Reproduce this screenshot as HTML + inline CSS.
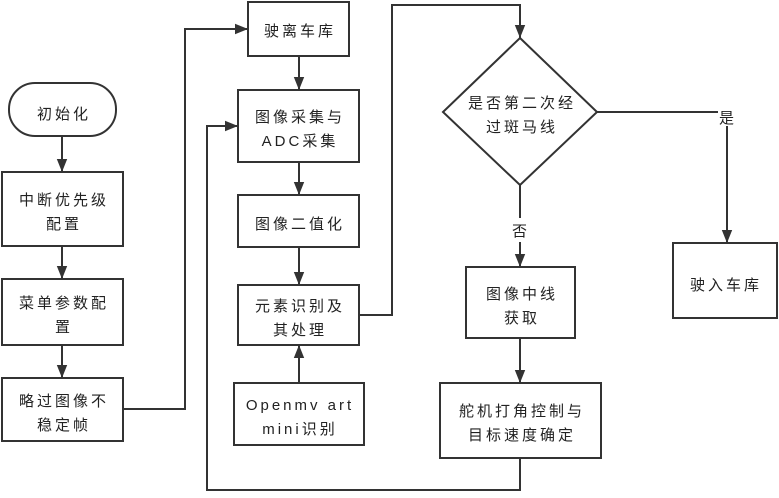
<!DOCTYPE html>
<html><head><meta charset="utf-8"><style>
html,body{margin:0;padding:0;background:#fff}
svg text{font-family:"Liberation Sans","Noto Sans CJK SC",sans-serif;font-size:15px;fill:#222;text-anchor:middle;letter-spacing:3px}
</style></head><body>
<svg width="779" height="493" viewBox="0 0 779 493" xmlns="http://www.w3.org/2000/svg">
<defs><marker id="a" viewBox="0 0 10 10" refX="10" refY="5" markerWidth="7" markerHeight="7" orient="auto" markerUnits="userSpaceOnUse"><path d="M0,0L10,5L0,10z" fill="#333"/></marker>
<marker id="b" viewBox="0 0 10 10" refX="10" refY="5" markerWidth="13" markerHeight="13" orient="auto" markerUnits="userSpaceOnUse"><path d="M0,1L10,5L0,9z" fill="#333"/></marker></defs>
<g fill="none" stroke="#333" stroke-width="2">
<rect x="9" y="83" width="107" height="53" rx="26"/>
<rect x="2" y="172" width="121" height="74"/>
<rect x="2" y="279" width="121" height="66"/>
<rect x="2" y="378" width="121" height="63"/>
<rect x="248" y="2" width="101" height="54"/>
<rect x="238" y="90" width="121" height="72"/>
<rect x="238" y="195" width="121" height="52"/>
<rect x="238" y="285" width="121" height="60"/>
<rect x="234" y="383" width="130" height="62"/>
<polygon points="520,38 597,112 520,185 443,112"/>
<rect x="466" y="267" width="109" height="71"/>
<rect x="440" y="383" width="161" height="75"/>
<rect x="673" y="243" width="104" height="75"/>
<g marker-end="url(#b)">
<line x1="62" y1="136" x2="62" y2="172"/>
<line x1="62" y1="246" x2="62" y2="279"/>
<line x1="62" y1="345" x2="62" y2="378"/>
<polyline points="123,409 185,409 185,29 248,29"/>
<line x1="299" y1="56" x2="299" y2="90"/>
<line x1="299" y1="162" x2="299" y2="195"/>
<line x1="299" y1="247" x2="299" y2="285"/>
<line x1="299" y1="383" x2="299" y2="345"/>
<polyline points="359,315 392,315 392,5 520,5 520,38"/>
<polyline points="520,458 520,490 207,490 207,126 238,126"/>
<line x1="520" y1="242" x2="520" y2="267"/>
<line x1="520" y1="338" x2="520" y2="383"/>
<line x1="727" y1="126" x2="727" y2="243"/>
</g>
<line x1="520" y1="185" x2="520" y2="218"/>
<line x1="597" y1="112" x2="718" y2="112"/>
</g>
<text x="64" y="119">初始化</text>
<text x="64" y="205">中断优先级</text><text x="64" y="229">配置</text>
<text x="64" y="308">菜单参数配</text><text x="64" y="332">置</text>
<text x="64" y="406">略过图像不</text><text x="64" y="430">稳定帧</text>
<text x="300" y="36">驶离车库</text>
<text x="300" y="122">图像采集与</text><text x="300" y="146">ADC采集</text>
<text x="300" y="229">图像二值化</text>
<text x="300" y="311">元素识别及</text><text x="300" y="335">其处理</text>
<text x="300" y="410">Openmv art</text><text x="300" y="434">mini识别</text>
<text x="522" y="108">是否第二次经</text><text x="522" y="132">过斑马线</text>
<text x="521" y="236">否</text>
<text x="728" y="123">是</text>
<text x="522" y="299">图像中线</text><text x="522" y="323">获取</text>
<text x="522" y="416">舵机打角控制与</text><text x="522" y="440">目标速度确定</text>
<text x="726" y="290">驶入车库</text>
</svg>
</body></html>
